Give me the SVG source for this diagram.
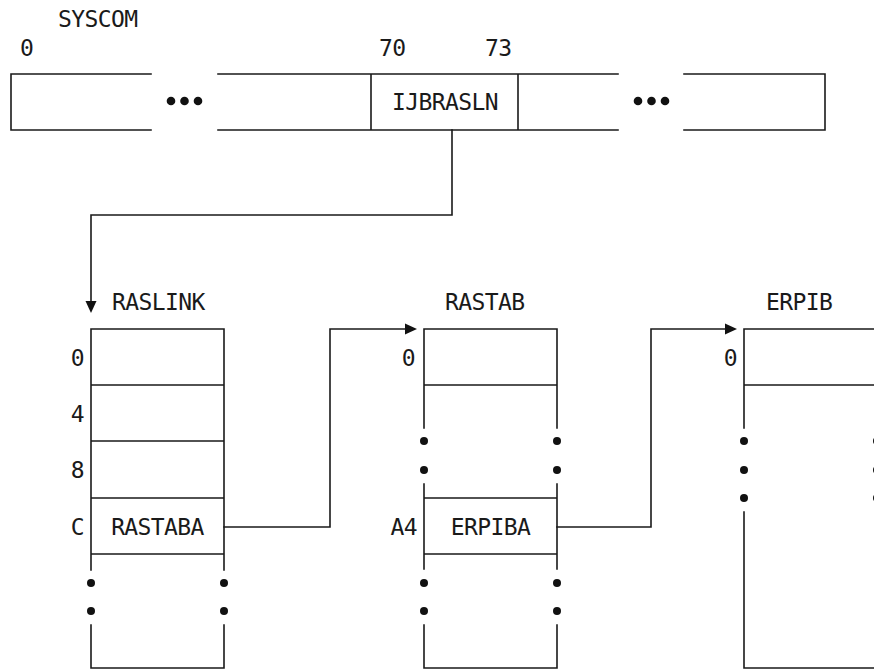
<svg xmlns="http://www.w3.org/2000/svg" width="874" height="670" viewBox="0 0 874 670">
<style>
  .ln { stroke: #1a1a1a; stroke-width: 1.6; fill: none; stroke-linecap: square; }
  .t { font-family: "DejaVu Sans Mono", "Liberation Mono", monospace; font-size: 23px; letter-spacing: -0.6px; fill: #1a1a1a; }
  .m { text-anchor: middle; }
  .e { text-anchor: end; }
  .d { fill: #111; }
  .ah { fill: #111; stroke: none; }
</style>
<rect width="874" height="670" fill="#ffffff"/>

<g id="syscom">
  <text class="t" x="58" y="27">SYSCOM</text>
  <text class="t" x="20" y="56">0</text>
  <text class="t" x="379" y="56">70</text>
  <text class="t" x="485" y="56">73</text>
  <path class="ln" d="M151 74 H11 V130 H151"/>
  <path class="ln" d="M218 74 H618 M218 130 H618 M371 74 V130 M518 74 V130"/>
  <path class="ln" d="M684 74 H825 V130 H684"/>
  <circle class="d" cx="171" cy="101" r="4.3"/>
  <circle class="d" cx="184.5" cy="101" r="4.3"/>
  <circle class="d" cx="198" cy="101" r="4.3"/>
  <circle class="d" cx="638" cy="101" r="4.3"/>
  <circle class="d" cx="651.5" cy="101" r="4.3"/>
  <circle class="d" cx="665" cy="101" r="4.3"/>
  <text class="t m" x="445" y="110">IJBRASLN</text>
</g>

<g id="raslink">
  <text class="t" x="112" y="310">RASLINK</text>
  <path class="ln" d="M91 570 V329 H224 V570 M91 385 H224 M91 441 H224 M91 498 H224 M91 554 H224"/>
  <path class="ln" d="M91 625 V668 H224 V625"/>
  <circle class="d" cx="91" cy="583" r="4"/>
  <circle class="d" cx="224" cy="583" r="4"/>
  <circle class="d" cx="91" cy="611" r="4"/>
  <circle class="d" cx="224" cy="611" r="4"/>
  <text class="t e" x="84" y="366">0</text>
  <text class="t e" x="84" y="422">4</text>
  <text class="t e" x="84" y="478">8</text>
  <text class="t e" x="84" y="535">C</text>
  <text class="t m" x="157.5" y="535">RASTABA</text>
</g>

<g id="rastab">
  <text class="t" x="445" y="310">RASTAB</text>
  <path class="ln" d="M424 428 V329 H557 V428 M424 385 H557"/>
  <circle class="d" cx="424" cy="441" r="4"/>
  <circle class="d" cx="557" cy="441" r="4"/>
  <circle class="d" cx="424" cy="470" r="4"/>
  <circle class="d" cx="557" cy="470" r="4"/>
  <path class="ln" d="M424 484 V569 M557 484 V569 M424 498 H557 M424 554 H557"/>
  <circle class="d" cx="424" cy="583" r="4"/>
  <circle class="d" cx="557" cy="583" r="4"/>
  <circle class="d" cx="424" cy="611" r="4"/>
  <circle class="d" cx="557" cy="611" r="4"/>
  <path class="ln" d="M424 625 V668 H557 V625"/>
  <text class="t e" x="415" y="366">0</text>
  <text class="t e" x="417" y="535">A4</text>
  <text class="t m" x="490.5" y="535">ERPIBA</text>
</g>

<g id="erpib">
  <text class="t" x="766" y="310">ERPIB</text>
  <path class="ln" d="M744 428 V329 H877 V428 M744 385 H877"/>
  <circle class="d" cx="744" cy="441" r="4"/>
  <circle class="d" cx="877" cy="441" r="4"/>
  <circle class="d" cx="744" cy="470" r="4"/>
  <circle class="d" cx="877" cy="470" r="4"/>
  <circle class="d" cx="744" cy="498" r="4"/>
  <circle class="d" cx="877" cy="498" r="4"/>
  <path class="ln" d="M744 512 V668 H877 V512"/>
  <text class="t e" x="737" y="366">0</text>
</g>

<g id="connectors">
  <path class="ln" d="M452 130 V215 H91 V302"/>
  <polygon class="ah" points="91,313 85.5,301 96.5,301"/>
  <path class="ln" d="M224 527 H330 V329 H406"/>
  <polygon class="ah" points="417,329 405,323.5 405,334.5"/>
  <path class="ln" d="M557 527 H651 V329 H726"/>
  <polygon class="ah" points="737,329 725,323.5 725,334.5"/>
</g>
</svg>
